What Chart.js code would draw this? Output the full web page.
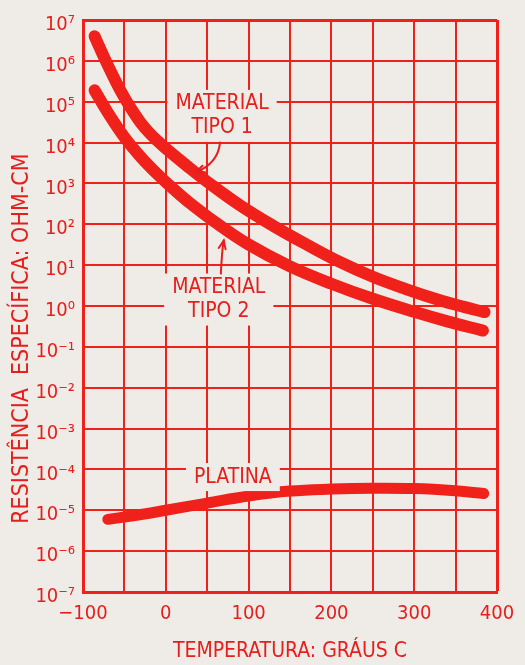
<!DOCTYPE html>
<html>
<head>
<meta charset="utf-8">
<script src="https://cdn.jsdelivr.net/npm/chart.js@4.4.1/dist/chart.umd.min.js"></script>
<style>
  html, body { margin: 0; padding: 0; background: #efece7; }
  #wrap { width: 525px; height: 665px; position: relative; }
</style>
</head>
<body>
<div id="wrap"><canvas id="chart"></canvas></div>
<script>
// Temperature (degrees C) and resistivity (ohm-cm)
const tempTipo1 = [-86, -80, -70, -60, -50, -40, -30, -20, -10, 0, 25, 50, 90, 130, 170, 210, 250, 290, 330, 360, 385];
const resTipo1 = [4.0e6, 2.14e6, 7.8e5, 3.0e5, 1.26e5, 5.9e4, 3.0e4, 1.74e4, 1.1e4, 7.2e3, 2.75e3, 1.1e3, 288, 91, 32, 12, 5.2, 2.6, 1.4, 0.95, 0.71];

const tempTipo2 = [-86, -70, -50, -30, -10, 10, 30, 60, 100, 150, 200, 250, 300, 340, 383];
const resTipo2 = [1.9e5, 5.4e4, 1.35e4, 4.4e3, 1.68e3, 710, 320, 111, 32, 9.3, 3.5, 1.5, 0.72, 0.42, 0.25];

const tempPlatina = [-70, -30, 0, 50, 100, 150, 200, 250, 300, 350, 384];
const resPlatina = [6.0e-6, 7.9e-6, 1.0e-5, 1.5e-5, 2.24e-5, 2.95e-5, 3.3e-5, 3.47e-5, 3.4e-5, 3.0e-5, 2.57e-5];

const xLabels = [-100, 0, 100, 200, 300, 400];
const yExponents = [-7, -6, -5, -4, -3, -2, -1, 0, 1, 2, 3, 4, 5, 6, 7];

const RED = '#f0201a';
const INK = '#e61e1c';
const PAPER = '#efece7';
const FONT = '"DejaVu Sans Condensed", "DejaVu Sans", sans-serif';

const SUP = { '-': '\u207B', '0': '\u2070', '1': '\u00B9', '2': '\u00B2', '3': '\u00B3',
  '4': '\u2074', '5': '\u2075', '6': '\u2076', '7': '\u2077', '8': '\u2078', '9': '\u2079' };
const sup = (n) => String(n).split('').map(c => SUP[c]).join('');

const toPoints = (xs, ys) => xs.map((x, i) => ({ x: x, y: ys[i] }));

// text labels on the plot and their arrows, in data coordinates
const notes = [
  { lines: ['MATERIAL', 'TIPO 1'], t: 68, r: 4.5e4 },
  { lines: ['MATERIAL', 'TIPO 2'], t: 64, r: 1.44 },
  { lines: ['PLATINA'], t: 81, r: 6.5e-5 }
];
const arrows = [
  { from: [65.5, 1e4], ctrl: [63, 3.1e3], to: [36.5, 1.9e3] },
  { from: [66.5, 6.2], ctrl: [68, 25], to: [70, 40] }
];

const notesPlugin = {
  id: 'notes',
  afterDatasetsDraw(chart) {
    const { ctx, scales: { x, y } } = chart;
    ctx.save();
    ctx.font = '21px ' + FONT;
    ctx.textAlign = 'center';
    ctx.textBaseline = 'middle';
    const lh = 24;
    notes.forEach(n => {
      const cx = x.getPixelForValue(n.t);
      const cy = y.getPixelForValue(n.r);
      const w = Math.max(...n.lines.map(l => ctx.measureText(l).width)) + 16;
      const h = n.lines.length * lh + 4;
      ctx.fillStyle = PAPER;
      ctx.fillRect(cx - w / 2, cy - h / 2, w, h);
      ctx.fillStyle = INK;
      n.lines.forEach((l, i) => {
        ctx.fillText(l, cx, cy - (n.lines.length - 1) * lh / 2 + i * lh);
      });
    });

    ctx.strokeStyle = INK;
    ctx.lineWidth = 2;
    ctx.lineCap = 'round';
    arrows.forEach(a => {
      const p0 = [x.getPixelForValue(a.from[0]), y.getPixelForValue(a.from[1])];
      const pc = [x.getPixelForValue(a.ctrl[0]), y.getPixelForValue(a.ctrl[1])];
      const p1 = [x.getPixelForValue(a.to[0]), y.getPixelForValue(a.to[1])];
      ctx.beginPath();
      ctx.moveTo(p0[0], p0[1]);
      ctx.quadraticCurveTo(pc[0], pc[1], p1[0], p1[1]);
      ctx.stroke();
      const ang = Math.atan2(p1[1] - pc[1], p1[0] - pc[0]);
      const len = 9;
      ctx.beginPath();
      ctx.moveTo(p1[0] - len * Math.cos(ang - 0.4), p1[1] - len * Math.sin(ang - 0.4));
      ctx.lineTo(p1[0], p1[1]);
      ctx.lineTo(p1[0] - len * Math.cos(ang + 0.4), p1[1] - len * Math.sin(ang + 0.4));
      ctx.stroke();
    });
    ctx.restore();
  }
};

// y axis title, placed a bit below the middle like in the original
const yTitlePlugin = {
  id: 'yTitle',
  afterDraw(chart) {
    const { ctx, chartArea } = chart;
    ctx.save();
    ctx.translate(22, chartArea.top + chartArea.height * 0.557);
    ctx.rotate(-Math.PI / 2);
    ctx.font = '23px ' + FONT;
    ctx.fillStyle = INK;
    ctx.textAlign = 'center';
    ctx.textBaseline = 'middle';
    ctx.fillText('RESISTÊNCIA  ESPECÍFICA: OHM-CM', 0, 0);
    ctx.restore();
  }
};

const lineStyle = (w) => ({
  borderColor: RED,
  borderWidth: w,
  borderCapStyle: 'round',
  borderJoinStyle: 'round',
  pointRadius: 0,
  tension: 0.4,
  fill: false
});

new Chart(document.getElementById('chart'), {
  type: 'line',
  data: {
    datasets: [
      { label: 'Material tipo 1', data: toPoints(tempTipo1, resTipo1), ...lineStyle(12) },
      { label: 'Material tipo 2', data: toPoints(tempTipo2, resTipo2), ...lineStyle(12) },
      { label: 'Platina', data: toPoints(tempPlatina, resPlatina), ...lineStyle(11) }
    ]
  },
  options: {
    responsive: true,
    maintainAspectRatio: false,
    animation: false,
    layout: { padding: { left: 0, right: 28, top: 13, bottom: 0 } },
    plugins: {
      legend: { display: false },
      tooltip: { enabled: false }
    },
    scales: {
      x: {
        type: 'linear',
        min: -100,
        max: 400,
        afterFit: (s) => { s.height = 73; },
        ticks: {
          stepSize: 50,
          autoSkip: false,
          maxRotation: 0,
          padding: 10,
          color: INK,
          font: { family: FONT, size: 20 },
          callback: (v) => xLabels.includes(v) ? (v < 0 ? '\u2212' + Math.abs(v) : String(v)) : ''
        },
        grid: {
          color: RED,
          drawTicks: false,
          lineWidth: (c) => (c.tick && c.tick.value === 400) ? 3 : 2
        },
        border: { color: RED, width: 3 },
        title: {
          display: true,
          text: 'TEMPERATURA: GRÁUS C',
          color: INK,
          font: { family: FONT, size: 21 },
          padding: { top: 0, bottom: 1 }
        }
      },
      y: {
        type: 'logarithmic',
        min: 1e-7,
        max: 1e7,
        afterFit: (s) => { s.width = 83; },
        afterBuildTicks: (s) => { s.ticks = yExponents.map(e => ({ value: Math.pow(10, e) })); },
        ticks: {
          autoSkip: false,
          padding: 8,
          labelOffset: 5,
          color: INK,
          font: { family: FONT, size: 20 },
          callback: (v) => '10' + sup(Math.round(Math.log10(v)))
        },
        grid: {
          color: RED,
          drawTicks: false,
          lineWidth: (c) => (c.tick && c.tick.value >= 1e7 * 0.999) ? 3 : 2
        },
        border: { color: RED, width: 3 }
      }
    }
  },
  plugins: [notesPlugin, yTitlePlugin]
});
</script>
</body>
</html>
